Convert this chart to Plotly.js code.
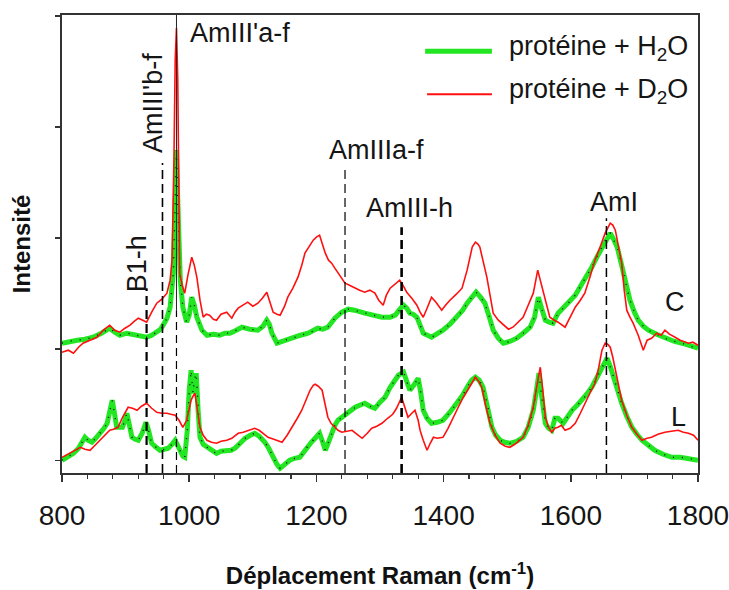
<!DOCTYPE html>
<html><head><meta charset="utf-8">
<script src="https://cdn.plot.ly/plotly-3.0.1.min.js"></script>
<style>html,body{margin:0;padding:0;background:#fff}</style>
</head><body><div id="chart" style="width:729px;height:590px"></div>
<script>
// Spectrum C, protein + H2O
const cH2OX = [800,812,824,836,849,862,875,883,891,902,912,922,933,941,949,955,959,965,970,975,978,980,982,986,990,996,1000,1004,1008,1012,1020,1028,1038,1048,1056,1064,1074,1083,1095,1108,1116,1122,1126,1130,1138,1150,1162,1175,1187,1195,1202,1210,1218,1229,1240,1250,1260,1276,1290,1303,1316,1324,1330,1337,1342,1347,1352,1358,1363,1368,1381,1390,1399,1410,1421,1430,1437,1445,1451,1458,1465,1472,1478,1486,1494,1505,1515,1525,1536,1543,1549,1554,1560,1566,1572,1580,1588,1596,1607,1618,1626,1633,1641,1649,1656,1662,1668,1673,1678,1683,1688,1693,1700,1706,1714,1722,1735,1748,1762,1775,1788,1800];
const cH2OY = [117,119,120,121,123,127,132,128,125,127,126,124,123,125,128,131,135,142,153,187,260,310,260,180,153,138,145,163,155,143,130,125,126,125,127,127,130,133,131,130,134,140,136,127,117,120,122,125,127,129,132,131,133,142,148,151,150,147,145,143,143,145,150,155,152,147,146,143,135,127,123,126,130,136,143,150,157,164,168,163,157,143,130,122,117,119,122,127,133,143,163,152,140,138,137,147,152,157,165,177,185,193,203,213,222,227,220,213,200,187,173,160,148,140,134,130,126,122,119,117,114,112];
// Spectrum C, protein + D2O
const cD2OX = [800,810,818,826,833,844,855,865,875,883,891,899,907,914,920,927,933,941,949,957,965,970,973,976,978,980,982,984,985,989,993,998,1004,1008,1012,1017,1022,1027,1032,1038,1043,1050,1059,1067,1072,1077,1085,1092,1100,1108,1115,1122,1127,1132,1138,1143,1150,1155,1163,1171,1177,1182,1188,1195,1200,1205,1210,1214,1219,1224,1229,1234,1240,1245,1252,1261,1268,1276,1284,1292,1298,1305,1310,1316,1324,1331,1336,1342,1350,1358,1363,1368,1374,1381,1388,1397,1403,1410,1420,1429,1437,1445,1450,1454,1457,1463,1468,1473,1478,1486,1494,1502,1509,1517,1525,1533,1541,1545,1548,1552,1556,1561,1567,1574,1580,1591,1599,1607,1615,1622,1630,1638,1646,1654,1662,1666,1670,1675,1680,1684,1688,1693,1698,1706,1714,1720,1727,1735,1742,1748,1755,1764,1772,1785,1792,1800];
const cD2OY = [108,110,107,113,117,120,123,130,135,130,128,132,135,139,142,140,138,148,157,161,167,180,200,300,400,432,380,250,187,175,167,185,203,195,183,160,143,146,145,141,140,146,148,142,148,152,155,158,154,157,162,168,158,148,146,145,154,163,172,183,195,207,213,220,223,225,215,207,200,197,192,187,182,177,175,172,170,168,170,167,160,155,165,172,176,180,175,168,162,155,148,143,152,163,158,150,155,160,166,172,190,213,218,216,213,198,183,165,147,140,135,131,133,138,143,155,167,180,190,180,170,155,143,140,138,133,143,153,160,167,183,200,213,227,237,235,230,215,197,170,150,143,137,125,110,120,122,127,125,130,126,123,120,117,118,115];
// Spectrum L, protein + H2O
const lH2OX = [800,810,818,826,836,841,847,853,860,866,871,875,879,883,886,891,895,899,902,906,910,915,920,926,932,936,941,948,954,961,967,973,978,984,990,993,997,1000,1003,1006,1008,1011,1014,1017,1022,1028,1036,1043,1050,1059,1066,1072,1080,1088,1096,1103,1110,1119,1125,1132,1138,1143,1150,1158,1166,1174,1180,1185,1192,1198,1205,1210,1214,1219,1224,1229,1234,1240,1245,1253,1261,1268,1276,1284,1292,1300,1308,1316,1324,1329,1337,1342,1347,1353,1360,1364,1368,1374,1381,1390,1399,1410,1421,1430,1437,1444,1450,1456,1462,1468,1476,1482,1489,1496,1504,1515,1525,1533,1541,1546,1550,1554,1560,1565,1570,1575,1580,1588,1595,1602,1610,1618,1625,1633,1641,1649,1657,1662,1667,1674,1680,1688,1696,1704,1712,1722,1732,1745,1759,1772,1785,1800];
const lH2OY = [0,4,7,12,23,20,18,22,27,32,37,48,60,45,33,33,33,40,47,35,23,21,20,27,38,30,17,13,10,11,12,16,20,12,4,3,30,70,90,67,80,87,50,23,16,13,9,7,9,10,10,12,17,22,25,27,24,18,12,3,-4,-8,-4,0,2,3,8,13,18,22,27,18,10,18,27,35,40,43,45,50,53,55,57,54,52,58,63,73,80,85,88,80,70,75,82,68,50,42,37,38,40,48,57,65,73,80,83,80,73,58,33,25,20,18,17,19,23,33,50,70,87,65,37,32,30,42,42,37,44,50,55,60,66,73,83,93,102,94,83,70,57,44,33,26,20,15,10,6,3,3,2,0];
// Spectrum L, protein + D2O
const lD2OX = [800,806,813,820,829,836,844,852,860,868,875,881,888,896,904,911,918,925,933,941,949,957,965,971,978,984,990,996,1003,1006,1009,1013,1017,1022,1028,1035,1043,1050,1059,1067,1077,1085,1094,1103,1110,1118,1124,1133,1140,1146,1154,1162,1170,1177,1184,1190,1195,1198,1203,1209,1214,1218,1223,1229,1234,1240,1248,1256,1264,1272,1280,1287,1295,1303,1312,1320,1326,1331,1334,1338,1344,1350,1355,1360,1363,1368,1374,1379,1384,1390,1399,1407,1415,1423,1431,1440,1450,1455,1460,1466,1473,1481,1489,1497,1504,1512,1518,1525,1533,1541,1546,1552,1556,1560,1565,1570,1575,1580,1585,1591,1599,1607,1615,1622,1630,1638,1644,1649,1654,1658,1662,1666,1670,1675,1680,1688,1696,1704,1712,1720,1727,1737,1748,1758,1769,1777,1785,1793,1800];
const lD2OY = [3,5,7,10,13,11,10,15,20,26,30,31,33,44,53,52,50,54,57,52,48,47,47,46,45,40,33,40,60,64,67,50,33,25,20,18,17,19,20,22,27,28,30,32,30,26,23,21,19,18,25,33,42,50,60,70,75,76,74,70,55,43,37,33,30,28,29,30,26,22,27,32,34,37,42,46,52,58,63,55,43,47,50,40,30,20,10,17,23,22,23,32,43,53,63,73,83,79,73,55,37,25,17,14,13,16,19,23,35,53,72,93,70,43,33,28,32,33,35,30,32,37,47,57,67,77,93,110,117,116,113,103,90,75,60,45,33,26,20,22,23,26,28,29,30,28,27,25,20];

const markerLines = [933, 958, 980, 1245, 1334, 1656];
const labels = ["B1-h", "AmIII'b-f", "AmIII'a-f", "AmIIIa-f", "AmIII-h", "AmI"];
const seriesNames = ["protéine + H<sub>2</sub>O", "protéine + D<sub>2</sub>O"];
const xTicks = [800, 1000, 1200, 1400, 1600, 1800];

const FONT = "Liberation Sans, Arial, sans-serif";
const GREEN = "#22e622";
const RED = "#ff1010";
const INK = "#151515";

function greenPair(x, y) {
  return [
    {x: x, y: y, type: "scatter", mode: "lines", line: {color: GREEN, width: 5}, showlegend: false, hoverinfo: "skip"},
    {x: x, y: y, type: "scatter", mode: "lines", line: {color: "#000", width: 1.3, dash: "1px,8px"}, showlegend: false, hoverinfo: "skip"}
  ];
}
function redLine(x, y) {
  return {x: x, y: y, type: "scatter", mode: "lines", line: {color: RED, width: 1.6}, showlegend: false, hoverinfo: "skip"};
}

const data = [].concat(
  greenPair(lH2OX, lH2OY), [redLine(lD2OX, lD2OY)],
  greenPair(cH2OX, cH2OY), [redLine(cD2OX, cD2OY)]
);

const shapes = [
  {type: "line", xref: "x", yref: "y", x0: markerLines[0], x1: markerLines[0], y0: -12.7, y1: 172, line: {color: "#000", width: 2.2, dash: "9px,5px"}},
  {type: "line", xref: "x", yref: "y", x0: markerLines[1], x1: markerLines[1], y0: -12.7, y1: 297, line: {color: "#000", width: 1.6, dash: "9px,5px"}},
  {type: "line", xref: "x", yref: "y", x0: markerLines[2], x1: markerLines[2], y0: 150, y1: 445, line: {color: "#222", width: 1}},
  {type: "line", xref: "x", yref: "y", x0: markerLines[2], x1: markerLines[2], y0: -12.7, y1: 150, line: {color: "#000", width: 1.2, dash: "8px,5px"}},
  {type: "line", xref: "x", yref: "y", x0: markerLines[3], x1: markerLines[3], y0: -12.7, y1: 293, line: {color: "#000", width: 1.2, dash: "9px,5px"}},
  {type: "line", xref: "x", yref: "y", x0: markerLines[4], x1: markerLines[4], y0: -12.7, y1: 233, line: {color: "#000", width: 2.6, dash: "9px,5px"}},
  {type: "line", xref: "x", yref: "y", x0: markerLines[5], x1: markerLines[5], y0: -12.7, y1: 242, line: {color: "#000", width: 1.5, dash: "9px,5px"}},
  // legend samples
  {type: "line", xref: "paper", yref: "paper", x0: 0.571, x1: 0.676, y0: 0.921, y1: 0.921, line: {color: GREEN, width: 5}},
  {type: "line", xref: "paper", yref: "paper", x0: 0.574, x1: 0.676, y0: 0.827, y1: 0.827, line: {color: RED, width: 2}}
];

const lf = {family: FONT, size: 27, color: INK};
const annotations = [
  {text: labels[0], x: 918, y: 196, xref: "x", yref: "y", textangle: -90, showarrow: false, font: lf},
  {text: labels[1], x: 943, y: 357, xref: "x", yref: "y", textangle: -90, showarrow: false, font: lf},
  {text: labels[2], x: 998, y: 427, xref: "x", yref: "y", xanchor: "left", showarrow: false, font: lf},
  {text: labels[3], x: 1294, y: 310, xref: "x", yref: "y", showarrow: false, font: lf},
  {text: labels[4], x: 1347, y: 252, xref: "x", yref: "y", showarrow: false, font: lf},
  {text: labels[5], x: 1668, y: 258, xref: "x", yref: "y", showarrow: false, font: lf},
  {text: "C", x: 1764, y: 158, xref: "x", yref: "y", showarrow: false, font: lf},
  {text: "L", x: 1769, y: 43, xref: "x", yref: "y", showarrow: false, font: lf},
  {text: seriesNames[0], x: 0.700, y: 0.927, xref: "paper", yref: "paper", xanchor: "left", yanchor: "middle", showarrow: false, font: lf},
  {text: seriesNames[1], x: 0.700, y: 0.835, xref: "paper", yref: "paper", xanchor: "left", yanchor: "middle", showarrow: false, font: lf}
];

const layout = {
  width: 729, height: 590,
  margin: {l: 62, r: 31, t: 15, b: 117},
  paper_bgcolor: "#fff", plot_bgcolor: "#fff",
  showlegend: false,
  xaxis: {
    range: [800, 1800], tickvals: xTicks, ticktext: xTicks.map(String),
    ticks: "outside", ticklen: 7, tickwidth: 1.5, tickcolor: "#333",
    minor: {dtick: 40, tick0: 800, ticks: "outside", ticklen: 4, tickwidth: 1.2, tickcolor: "#333"},
    showline: true, mirror: true, linecolor: "#333", linewidth: 1.6,
    showgrid: false, zeroline: false,
    tickfont: {family: FONT, size: 28, color: INK},
    ticklabelstandoff: 10,
    ticklabeloverflow: "allow",
    title: {text: "<b>Déplacement Raman (cm<sup>-1</sup>)</b>", font: {family: FONT, size: 24, color: "#111"}, standoff: 37}
  },
  yaxis: {
    range: [-12.7, 445], tickvals: [0, 111, 222, 333, 444], showticklabels: false,
    ticks: "outside", ticklen: 5, tickwidth: 1.5, tickcolor: "#333",
    showline: true, mirror: true, linecolor: "#333", linewidth: 1.6,
    showgrid: false, zeroline: false,
    title: {text: "<b>Intensité</b>", font: {family: FONT, size: 24, color: "#111"}, standoff: 18}
  },
  shapes: shapes,
  annotations: annotations
};

Plotly.newPlot("chart", data, layout, {staticPlot: true, displayModeBar: false});
</script>
</body></html>
